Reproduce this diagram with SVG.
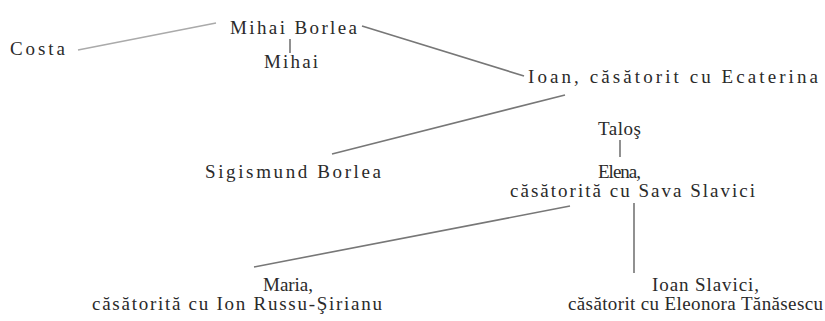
<svg xmlns="http://www.w3.org/2000/svg" width="825" height="321" viewBox="0 0 825 321">
<style>
text{font-family:"Liberation Serif","DejaVu Serif",serif;font-size:19px;fill:#2a2a2a;}
.ln{stroke:#777;stroke-width:1.6;fill:none;}
.lt{stroke:#aaa;stroke-width:1.4;fill:none;}
.bar{stroke:#555;stroke-width:1.3;fill:none;}
</style>
<rect width="825" height="321" fill="#fff"/>
<g id="connectors">
<line class="lt" x1="78" y1="50" x2="216" y2="23"/>
<line class="bar" x1="290" y1="39" x2="290" y2="53"/>
<line class="ln" x1="362" y1="26" x2="524" y2="76"/>
<line class="ln" x1="565" y1="95" x2="332" y2="154"/>
<line class="bar" x1="620" y1="140" x2="620" y2="157"/>
<line class="ln" x1="570" y1="206" x2="254" y2="267"/>
<line class="bar" x1="634" y1="203" x2="634" y2="273"/>
</g>
<g id="costa"><text x="10" y="55" textLength="55" lengthAdjust="spacing">Costa</text></g>
<g id="mihai-borlea"><text x="230" y="34" textLength="127" lengthAdjust="spacing">Mihai  Borlea</text></g>
<g id="mihai"><text x="264" y="68" textLength="54" lengthAdjust="spacing">Mihai</text></g>
<g id="ioan"><text x="528" y="83" textLength="290" lengthAdjust="spacing">Ioan, căsătorit cu Ecaterina</text></g>
<g id="talos"><text x="598" y="135" textLength="43" lengthAdjust="spacing">Taloş</text></g>
<g id="sigismund"><text x="205" y="178" textLength="176" lengthAdjust="spacing">Sigismund Borlea</text></g>
<g id="elena">
<text x="598" y="178" textLength="43" lengthAdjust="spacing">Elena,</text>
<text x="510" y="197" textLength="245" lengthAdjust="spacing">căsătorită cu Sava Slavici</text>
</g>
<g id="maria">
<text x="263" y="291" textLength="50" lengthAdjust="spacing">Maria,</text>
<text x="92" y="310" textLength="290" lengthAdjust="spacing">căsătorită cu Ion Russu-Şirianu</text>
</g>
<g id="ioan-slavici">
<text x="652" y="291" textLength="107" lengthAdjust="spacing">Ioan Slavici,</text>
<text x="568" y="310" textLength="255" lengthAdjust="spacing">căsătorit cu Eleonora Tănăsescu</text>
</g>
</svg>
